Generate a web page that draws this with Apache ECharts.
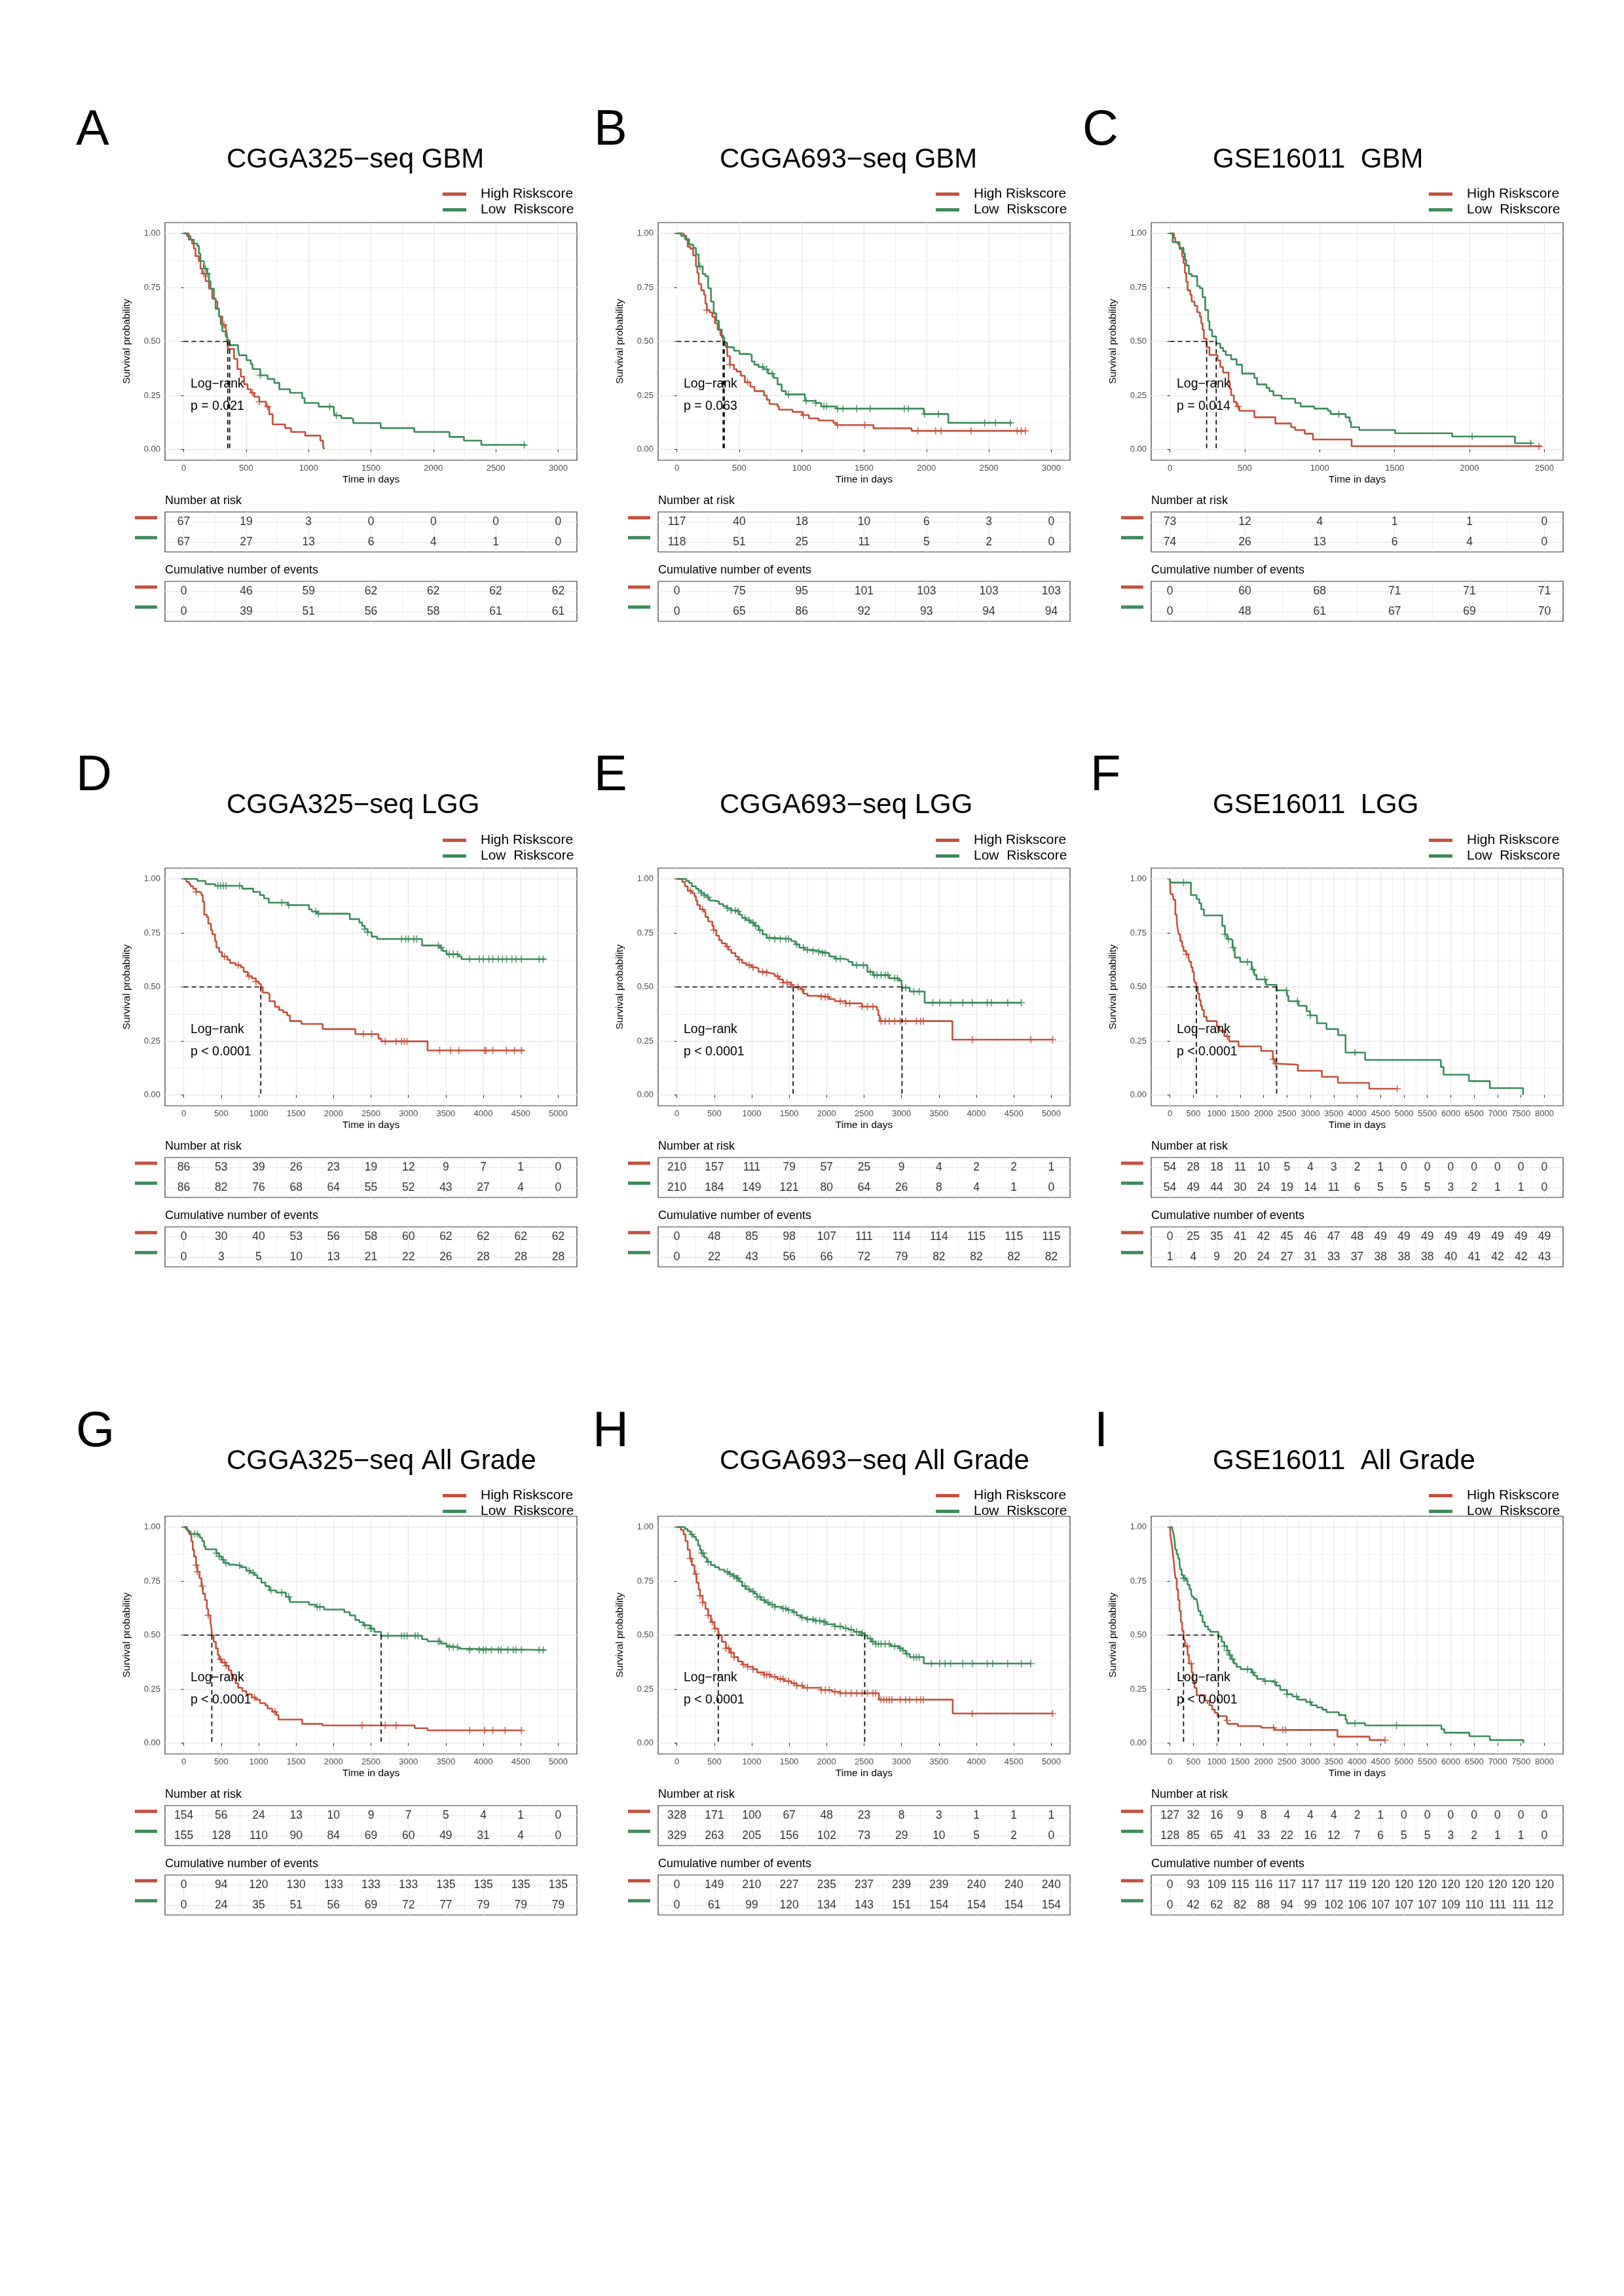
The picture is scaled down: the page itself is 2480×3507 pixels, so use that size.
<!DOCTYPE html>
<html>
<head>
<meta charset="utf-8">
<script src="https://cdn.jsdelivr.net/npm/echarts@6/dist/echarts.min.js"></script>
<style>
html,body{margin:0;padding:0;background:#ffffff;}
#chart{width:2480px;height:3507px;}
</style>
</head>
<body>
<div id="chart"></div>
<script>
// ---------------- DATA ----------------
const groupNames = ['High Riskscore', 'Low  Riskscore'];
const panelLetters = ['A','B','C','D','E','F','G','H','I'];
const panelTitles = ['CGGA325\u2212seq GBM','CGGA693\u2212seq GBM','GSE16011  GBM',
                     'CGGA325\u2212seq LGG','CGGA693\u2212seq LGG','GSE16011  LGG',
                     'CGGA325\u2212seq All Grade','CGGA693\u2212seq All Grade','GSE16011  All Grade'];
const pTexts = ['p = 0.021','p = 0.063','p = 0.014','p < 0.0001','p < 0.0001','p < 0.0001','p < 0.0001','p < 0.0001','p < 0.0001'];
const logRankText = 'Log\u2212rank';
const yBreaks = [0, 0.25, 0.5, 0.75, 1];
const breaks2500 = [0,500,1000,1500,2000,2500];
const breaks3000 = [0,500,1000,1500,2000,2500,3000];
const breaks5000 = [0,500,1000,1500,2000,2500,3000,3500,4000,4500,5000];
const breaks8000 = [0,500,1000,1500,2000,2500,3000,3500,4000,4500,5000,5500,6000,6500,7000,7500,8000];

// Panel A
const A_high = [[0,1],[40,0.971],[67,0.953],[81,0.930],[94,0.895],[121,0.872],[134,0.837],[148,0.814],[175,0.779],[202,0.744],[228,0.698],[255,0.686],[269,0.651],[282,0.616],[309,0.576],[336,0.564],[343,0.541],[349,0.512],[353,0.465],[403,0.419],[430,0.372],[457,0.337],[484,0.302],[511,0.279],[538,0.262],[565,0.244],[605,0.221],[659,0.198],[685,0.163],[712,0.116],[812,0.099],[860,0.081],[973,0.064],[1094,0.041],[1116,0.017],[1124,0]];
const A_low = [[0,1],[27,0.988],[54,0.971],[81,0.953],[108,0.942],[121,0.907],[134,0.872],[161,0.837],[188,0.814],[202,0.779],[215,0.744],[242,0.698],[255,0.651],[282,0.616],[296,0.581],[309,0.547],[336,0.523],[349,0.506],[368,0.483],[435,0.465],[444,0.436],[503,0.413],[538,0.395],[551,0.372],[613,0.343],[672,0.326],[726,0.308],[766,0.279],[852,0.262],[949,0.238],[968,0.215],[1081,0.198],[1202,0.174],[1210,0.157],[1263,0.145],[1344,0.140],[1358,0.122],[1578,0.099],[1847,0.081],[2129,0.058],[2245,0.041],[2384,0.021],[2742,0.021]];
const A_cens_high = [161,323,551,605,672];
const A_cens_low = [175,188,613,1169,1223,2728];
const A_median = [353,368];
const A_risk_high = [67,19,3,0,0,0,0];
const A_risk_low = [67,27,13,6,4,1,0];
const A_events_high = [0,46,59,62,62,62,62];
const A_events_low = [0,39,51,56,58,61,61];

// Panel B
const B_high = [[0,1],[55,0.989],[76,0.969],[87,0.938],[109,0.928],[131,0.898],[153,0.847],[164,0.817],[175,0.766],[196,0.736],[218,0.716],[229,0.675],[240,0.645],[262,0.635],[284,0.614],[305,0.584],[327,0.554],[349,0.528],[371,0.498],[393,0.473],[404,0.432],[425,0.392],[458,0.371],[480,0.361],[513,0.341],[545,0.311],[589,0.290],[622,0.270],[698,0.250],[720,0.230],[742,0.210],[807,0.199],[818,0.184],[927,0.174],[1004,0.159],[1058,0.144],[1135,0.134],[1255,0.123],[1276,0.113],[1575,0.098],[1881,0.086],[2793,0.086]];
const B_low = [[0,1],[33,0.989],[65,0.974],[98,0.948],[131,0.933],[153,0.903],[175,0.847],[207,0.812],[229,0.802],[251,0.746],[273,0.685],[295,0.630],[316,0.595],[338,0.555],[360,0.519],[380,0.494],[404,0.473],[458,0.457],[502,0.442],[578,0.437],[600,0.407],[622,0.392],[655,0.382],[698,0.371],[731,0.351],[775,0.331],[807,0.301],[840,0.270],[873,0.255],[1026,0.225],[1113,0.215],[1156,0.199],[1276,0.189],[1979,0.164],[2175,0.123],[2684,0.123]];
const B_cens_high = [240,425,567,1015,1287,1506,1931,2073,2117,2357,2727,2760,2793];
const B_cens_low = [185,687,720,764,895,1036,1113,1178,1200,1287,1331,1440,1549,1822,1855,1986,2095,2466,2553,2673];
const B_median = [371,380];
const B_risk_high = [117,40,18,10,6,3,0];
const B_risk_low = [118,51,25,11,5,2,0];
const B_events_high = [0,75,95,101,103,103,103];
const B_events_low = [0,65,86,92,93,94,94];

// Panel C
const C_high = [[0,1],[27,0.979],[36,0.958],[55,0.948],[64,0.928],[82,0.893],[91,0.862],[100,0.817],[109,0.776],[118,0.736],[136,0.716],[145,0.685],[164,0.665],[182,0.635],[200,0.614],[209,0.584],[218,0.554],[227,0.513],[245,0.473],[264,0.437],[318,0.412],[336,0.382],[355,0.356],[391,0.311],[400,0.280],[409,0.250],[427,0.220],[445,0.199],[464,0.179],[564,0.149],[704,0.120],[809,0.103],[836,0.090],[900,0.073],[955,0.046],[1213,0.015],[2482,0.015]];
const C_low = [[0,1],[18,0.960],[64,0.933],[91,0.907],[100,0.877],[109,0.852],[127,0.812],[145,0.802],[182,0.756],[200,0.746],[218,0.705],[236,0.645],[255,0.594],[264,0.554],[282,0.523],[309,0.490],[336,0.470],[355,0.455],[373,0.437],[409,0.417],[445,0.392],[482,0.351],[564,0.331],[582,0.301],[645,0.285],[664,0.270],[691,0.250],[745,0.235],[836,0.215],[873,0.199],[964,0.189],[1055,0.179],[1073,0.164],[1173,0.149],[1200,0.129],[1209,0.103],[1264,0.090],[1504,0.075],[1885,0.060],[2304,0.029],[2418,0.029]];
const C_cens_high = [455,2464];
const C_cens_low = [1127,2018,2409];
const C_median = [245,309];
const C_risk_high = [73,12,4,1,1,0];
const C_risk_low = [74,26,13,6,4,0];
const C_events_high = [0,60,68,71,71,71];
const C_events_low = [0,48,61,67,69,70];

// Panel D
const D_high = [[0,1],[36,0.986],[73,0.976],[91,0.966],[127,0.955],[164,0.940],[218,0.935],[236,0.925],[255,0.895],[273,0.834],[309,0.824],[327,0.793],[364,0.763],[382,0.743],[418,0.712],[436,0.682],[473,0.662],[509,0.641],[582,0.626],[618,0.611],[691,0.601],[764,0.591],[800,0.570],[855,0.550],[909,0.540],[964,0.525],[1000,0.515],[1029,0.499],[1055,0.474],[1109,0.469],[1145,0.434],[1218,0.408],[1273,0.393],[1327,0.383],[1382,0.368],[1418,0.342],[1571,0.329],[1855,0.305],[2291,0.282],[2600,0.261],[2636,0.248],[3255,0.206],[4545,0.206]];
const D_low = [[0,1],[182,0.991],[291,0.976],[418,0.968],[782,0.955],[927,0.940],[1018,0.925],[1073,0.910],[1135,0.890],[1389,0.879],[1673,0.859],[1709,0.849],[1782,0.839],[2218,0.814],[2345,0.798],[2382,0.783],[2418,0.768],[2455,0.753],[2509,0.733],[2582,0.722],[3182,0.692],[3418,0.682],[3455,0.667],[3509,0.651],[3673,0.641],[3709,0.629],[4836,0.629]];
const D_cens_high = [164,545,727,873,964,2400,2509,2691,2836,2909,2945,2982,3418,3564,3673,4018,4036,4127,4309,4418,4509];
const D_cens_low = [455,491,527,564,745,1309,1400,1764,1800,2418,2455,2909,2964,3000,3073,3109,3400,3436,3545,3600,3655,3818,3945,4000,4073,4127,4200,4255,4309,4382,4436,4509,4745,4800];
const D_median = [1029];
const D_risk_high = [86,53,39,26,23,19,12,9,7,1,0];
const D_risk_low = [86,82,76,68,64,55,52,43,27,4,0];
const D_events_high = [0,30,40,53,56,58,60,62,62,62,62];
const D_events_low = [0,3,5,10,13,21,22,26,28,28,28];

// Panel E
const E_high = [[0,1],[73,0.986],[109,0.966],[145,0.945],[200,0.935],[236,0.920],[255,0.900],[273,0.879],[309,0.859],[364,0.849],[382,0.824],[418,0.803],[473,0.783],[491,0.763],[527,0.737],[564,0.717],[600,0.702],[655,0.687],[691,0.672],[727,0.657],[782,0.641],[818,0.626],[873,0.611],[927,0.601],[1000,0.591],[1055,0.586],[1091,0.570],[1200,0.565],[1236,0.560],[1309,0.550],[1364,0.535],[1418,0.520],[1527,0.510],[1553,0.499],[1655,0.489],[1691,0.469],[1745,0.459],[1891,0.454],[2036,0.444],[2109,0.434],[2255,0.424],[2473,0.409],[2673,0.393],[2691,0.368],[2709,0.342],[3680,0.256],[5018,0.256]];
const E_low = [[0,1],[127,0.991],[164,0.981],[200,0.966],[255,0.955],[291,0.945],[327,0.935],[364,0.925],[400,0.915],[436,0.900],[491,0.895],[564,0.884],[618,0.874],[673,0.864],[727,0.854],[800,0.849],[836,0.834],[873,0.819],[927,0.809],[982,0.798],[1036,0.783],[1091,0.763],[1145,0.743],[1200,0.727],[1273,0.722],[1527,0.712],[1582,0.697],[1636,0.682],[1709,0.672],[1800,0.667],[1891,0.662],[1945,0.657],[2036,0.641],[2109,0.631],[2218,0.626],[2291,0.616],[2345,0.601],[2545,0.570],[2618,0.555],[2836,0.540],[2964,0.530],[3000,0.515],[3010,0.497],[3109,0.479],[3309,0.427],[4600,0.427]];
const E_cens_high = [182,345,491,673,836,964,1018,1145,1200,1345,1418,1473,1527,1618,1673,1927,1982,2018,2182,2255,2309,2473,2545,2618,2727,2782,2836,2909,2982,3055,3200,3255,3291,3945,4727,5018];
const E_cens_low = [327,364,418,673,727,782,818,909,964,1018,1055,1109,1236,1309,1382,1455,1491,1600,1691,1745,1818,1891,1945,1982,2127,2182,2400,2491,2582,2636,2673,2727,2782,2818,2909,2945,3055,3164,3236,3418,3509,3655,3818,3945,4145,4200,4418,4600];
const E_median = [1553,3007];
const E_risk_high = [210,157,111,79,57,25,9,4,2,2,1];
const E_risk_low = [210,184,149,121,80,64,26,8,4,1,0];
const E_events_high = [0,48,85,98,107,111,114,114,115,115,115];
const E_events_low = [0,22,43,56,66,72,79,82,82,82,82];

// Panel F
const F_high = [[0,1],[12,0.930],[58,0.925],[76,0.904],[116,0.834],[145,0.803],[163,0.773],[186,0.743],[221,0.712],[262,0.687],[291,0.667],[349,0.651],[396,0.636],[419,0.616],[454,0.591],[483,0.570],[512,0.535],[535,0.520],[564,0.499],[593,0.469],[628,0.439],[657,0.413],[686,0.393],[727,0.362],[785,0.342],[1001,0.317],[1059,0.297],[1163,0.272],[1262,0.248],[1466,0.225],[1949,0.204],[2199,0.165],[2240,0.145],[2269,0.140],[2734,0.112],[3246,0.084],[3589,0.056],[4258,0.029],[4857,0.029]];
const F_low = [[0,1],[12,0.983],[448,0.925],[570,0.907],[628,0.887],[669,0.859],[727,0.831],[1117,0.783],[1175,0.743],[1222,0.722],[1280,0.717],[1338,0.682],[1385,0.636],[1501,0.616],[1745,0.581],[1803,0.555],[1850,0.535],[2054,0.510],[2280,0.484],[2501,0.459],[2531,0.434],[2746,0.413],[2920,0.388],[2996,0.368],[3141,0.332],[3345,0.305],[3595,0.277],[3752,0.196],[4171,0.162],[5788,0.130],[5846,0.094],[6387,0.064],[6835,0.032],[7545,0]];
const F_cens_high = [349,1222,2211,2257,4857];
const F_cens_low = [291,1175,1251,1350,1658,1774,2024,2490,2723,2996,3956];
const F_median = [564,2280];
const F_risk_high = [54,28,18,11,10,5,4,3,2,1,0,0,0,0,0,0,0];
const F_risk_low = [54,49,44,30,24,19,14,11,6,5,5,5,3,2,1,1,0];
const F_events_high = [0,25,35,41,42,45,46,47,48,49,49,49,49,49,49,49,49];
const F_events_low = [1,4,9,20,24,27,31,33,37,38,38,38,40,41,42,42,43];

// Panel G
const G_high = [[0,1],[44,0.986],[65,0.976],[80,0.966],[102,0.935],[120,0.895],[138,0.864],[164,0.824],[182,0.793],[211,0.763],[236,0.727],[255,0.692],[284,0.662],[309,0.621],[327,0.591],[356,0.560],[371,0.530],[375,0.499],[400,0.469],[429,0.439],[455,0.408],[473,0.388],[509,0.373],[564,0.358],[600,0.337],[636,0.317],[662,0.297],[691,0.277],[727,0.256],[782,0.241],[836,0.226],[909,0.211],[964,0.201],[1018,0.185],[1091,0.175],[1120,0.160],[1182,0.145],[1236,0.130],[1265,0.109],[1582,0.089],[1855,0.082],[3084,0.069],[3255,0.059],[4509,0.059]];
const G_low = [[0,1],[29,0.991],[55,0.981],[91,0.968],[200,0.960],[218,0.950],[247,0.935],[273,0.910],[291,0.897],[436,0.879],[473,0.864],[509,0.849],[538,0.834],[600,0.826],[673,0.822],[764,0.814],[836,0.798],[891,0.788],[945,0.778],[982,0.763],[1036,0.743],[1091,0.727],[1145,0.707],[1236,0.697],[1364,0.677],[1418,0.653],[1673,0.641],[1764,0.631],[1873,0.618],[2145,0.606],[2218,0.591],[2291,0.570],[2345,0.560],[2400,0.545],[2491,0.530],[2545,0.515],[2636,0.497],[3182,0.481],[3255,0.471],[3436,0.461],[3509,0.449],[3545,0.444],[3673,0.437],[3709,0.431],[4836,0.431]];
const G_cens_high = [164,182,247,327,491,545,564,945,1218,2382,2691,2836,3818,4018,4127,4291,4509];
const G_cens_low = [145,182,436,473,527,564,745,873,927,1164,1309,1400,1782,1818,2418,2491,2509,2727,2909,2945,2982,3091,3127,3400,3418,3545,3600,3655,3818,3945,4000,4036,4109,4200,4236,4327,4400,4436,4509,4745,4800];
const G_median = [375,2636];
const G_risk_high = [154,56,24,13,10,9,7,5,4,1,0];
const G_risk_low = [155,128,110,90,84,69,60,49,31,4,0];
const G_events_high = [0,94,120,130,133,133,133,135,135,135,135];
const G_events_low = [0,24,35,51,56,69,72,77,79,79,79];

// Panel H
const H_high = [[0,1],[55,0.986],[91,0.966],[116,0.935],[145,0.895],[175,0.854],[200,0.824],[236,0.783],[262,0.743],[291,0.712],[309,0.682],[345,0.651],[382,0.621],[418,0.591],[455,0.560],[502,0.530],[553,0.499],[600,0.469],[655,0.439],[709,0.418],[764,0.398],[818,0.378],[873,0.363],[945,0.353],[1018,0.342],[1073,0.327],[1164,0.317],[1255,0.307],[1345,0.297],[1436,0.287],[1527,0.277],[1600,0.266],[1691,0.256],[1927,0.246],[2073,0.238],[2182,0.231],[2698,0.201],[3684,0.137],[5018,0.137]];
const H_low = [[0,1],[109,0.991],[145,0.981],[182,0.966],[218,0.955],[255,0.940],[284,0.915],[309,0.895],[327,0.879],[364,0.859],[400,0.839],[455,0.824],[509,0.814],[564,0.803],[636,0.793],[691,0.783],[745,0.773],[800,0.763],[836,0.748],[873,0.727],[927,0.712],[982,0.702],[1036,0.692],[1073,0.677],[1127,0.662],[1182,0.651],[1236,0.641],[1309,0.631],[1400,0.623],[1473,0.616],[1545,0.606],[1600,0.591],[1655,0.581],[1727,0.573],[1836,0.566],[1927,0.560],[2000,0.550],[2109,0.540],[2218,0.532],[2291,0.525],[2364,0.515],[2473,0.508],[2509,0.499],[2545,0.484],[2600,0.469],[2655,0.459],[2855,0.449],[2964,0.439],[3018,0.429],[3055,0.413],[3109,0.398],[3298,0.368],[4727,0.368]];
const H_cens_high = [182,255,309,345,418,473,509,564,655,691,727,764,891,945,1018,1164,1200,1236,1309,1382,1418,1491,1564,1600,1673,1745,1927,1982,2036,2109,2182,2255,2327,2400,2473,2545,2618,2655,2727,2764,2800,2836,2873,2982,3055,3109,3200,3255,3291,3945,5018];
const H_cens_low = [200,335,356,418,673,709,764,800,818,909,964,1018,1073,1109,1164,1218,1273,1309,1418,1455,1491,1564,1673,1745,1818,1855,1909,1964,1982,2109,2182,2255,2327,2400,2473,2509,2582,2618,2655,2691,2727,2782,2836,2909,2982,3018,3073,3164,3200,3236,3400,3509,3582,3655,3818,3945,4145,4218,4418,4600,4727];
const H_median = [553,2509];
const H_risk_high = [328,171,100,67,48,23,8,3,1,1,1];
const H_risk_low = [329,263,205,156,102,73,29,10,5,2,0];
const H_events_high = [0,149,210,227,235,237,239,239,240,240,240];
const H_events_low = [0,61,99,120,134,143,151,154,154,154,154];

// Panel I
const I_high = [[0,1],[6,0.976],[23,0.945],[47,0.905],[70,0.864],[93,0.814],[116,0.763],[145,0.712],[175,0.662],[204,0.611],[233,0.560],[262,0.520],[291,0.479],[320,0.449],[378,0.408],[407,0.368],[465,0.327],[494,0.287],[524,0.256],[570,0.221],[756,0.196],[844,0.175],[902,0.155],[960,0.140],[1018,0.125],[1210,0.105],[1233,0.089],[1454,0.079],[1949,0.071],[2240,0.061],[3578,0.030],[4264,0.014],[4596,0.014]];
const I_low = [[0,1],[47,0.991],[70,0.976],[87,0.955],[105,0.925],[116,0.895],[145,0.874],[175,0.854],[204,0.834],[221,0.803],[250,0.778],[291,0.763],[349,0.753],[378,0.733],[419,0.712],[454,0.692],[477,0.677],[512,0.667],[570,0.662],[593,0.641],[611,0.611],[652,0.591],[698,0.560],[745,0.540],[814,0.525],[861,0.515],[1035,0.494],[1105,0.469],[1163,0.449],[1222,0.429],[1262,0.408],[1309,0.388],[1367,0.368],[1425,0.353],[1513,0.342],[1745,0.327],[1803,0.312],[1862,0.297],[2007,0.287],[2211,0.282],[2269,0.266],[2356,0.246],[2501,0.226],[2618,0.216],[2734,0.201],[2909,0.190],[3025,0.175],[3141,0.165],[3258,0.155],[3345,0.143],[3607,0.130],[3752,0.109],[3781,0.092],[4171,0.082],[5800,0.064],[5864,0.048],[6399,0.032],[6835,0.014],[7551,0]];
const I_cens_high = [366,454,1222,2211,2414,2472,4596];
const I_cens_low = [291,320,1163,1222,1280,1338,1658,1774,2036,2240,2501,2705,2996,3956,4840];
const I_median = [291,1035];
const I_risk_high = [127,32,16,9,8,4,4,4,2,1,0,0,0,0,0,0,0];
const I_risk_low = [128,85,65,41,33,22,16,12,7,6,5,5,3,2,1,1,0];
const I_events_high = [0,93,109,115,116,117,117,117,119,120,120,120,120,120,120,120,120];
const I_events_low = [0,42,62,82,88,94,99,102,106,107,107,107,109,110,111,111,112];

const panelData = [
  {breaks:breaks3000, high:A_high, low:A_low, cH:A_cens_high, cL:A_cens_low, med:A_median, rH:A_risk_high, rL:A_risk_low, eH:A_events_high, eL:A_events_low},
  {breaks:breaks3000, high:B_high, low:B_low, cH:B_cens_high, cL:B_cens_low, med:B_median, rH:B_risk_high, rL:B_risk_low, eH:B_events_high, eL:B_events_low},
  {breaks:breaks2500, high:C_high, low:C_low, cH:C_cens_high, cL:C_cens_low, med:C_median, rH:C_risk_high, rL:C_risk_low, eH:C_events_high, eL:C_events_low},
  {breaks:breaks5000, high:D_high, low:D_low, cH:D_cens_high, cL:D_cens_low, med:D_median, rH:D_risk_high, rL:D_risk_low, eH:D_events_high, eL:D_events_low},
  {breaks:breaks5000, high:E_high, low:E_low, cH:E_cens_high, cL:E_cens_low, med:E_median, rH:E_risk_high, rL:E_risk_low, eH:E_events_high, eL:E_events_low},
  {breaks:breaks8000, high:F_high, low:F_low, cH:F_cens_high, cL:F_cens_low, med:F_median, rH:F_risk_high, rL:F_risk_low, eH:F_events_high, eL:F_events_low},
  {breaks:breaks5000, high:G_high, low:G_low, cH:G_cens_high, cL:G_cens_low, med:G_median, rH:G_risk_high, rL:G_risk_low, eH:G_events_high, eL:G_events_low},
  {breaks:breaks5000, high:H_high, low:H_low, cH:H_cens_high, cL:H_cens_low, med:H_median, rH:H_risk_high, rL:H_risk_low, eH:H_events_high, eL:H_events_low},
  {breaks:breaks8000, high:I_high, low:I_low, cH:I_cens_high, cL:I_cens_low, med:I_median, rH:I_risk_high, rL:I_risk_low, eH:I_events_high, eL:I_events_low}
];

// ---------------- STYLE / LAYOUT ----------------
const FONT = '"Liberation Sans", Arial, Helvetica, sans-serif';
const RED = '#C4503D';
const GREEN = '#3C8B5A';
const GRIDC = '#EBEBEB';
const FRAME = '#333333';
const colL = [252, 1005, 1758];
const rowT = [340, 1326, 2316];
const PW = 629, PH = 363;
const letterX = [116, 907, 1653, 116, 907, 1665, 116, 905, 1671];
const headOff = [
  {letter:-140, title:-96, legend:-54},
  {letter:-140, title:-96, legend:-53},
  {letter:-128, title:-84, legend:-42}
];
const CROSS = 'path://M-5,-0.8H5V0.8H-5Z M-0.8,-5H0.8V5H-0.8Z';

function survAt(curve, t) {
  let s = curve[0][1];
  for (const pt of curve) { if (pt[0] <= t) s = pt[1]; else break; }
  return s;
}
function minorOf(arr) {
  const out = [];
  for (let i = 0; i < arr.length - 1; i++) out.push((arr[i] + arr[i + 1]) / 2);
  return out;
}

const option = {
  animation: false,
  backgroundColor: '#ffffff',
  grid: [], xAxis: [], yAxis: [], series: [], legend: [], graphic: []
};

function addXAxes(gi, xmin, xmax, majors, withLabels) {
  const xi = option.xAxis.length;
  option.xAxis.push({
    gridIndex: gi, type: 'value', min: xmin, max: xmax, position: 'bottom',
    axisLine: {show: false},
    axisTick: {show: withLabels, length: 4, customValues: majors, lineStyle: {color: FRAME, width: 1.1}},
    axisLabel: withLabels ? {show: true, customValues: majors, formatter: v => String(Math.round(v)), fontSize: 13, color: '#4D4D4D', margin: 6, fontFamily: FONT} : {show: false},
    splitLine: {show: true, lineStyle: {color: GRIDC, width: 1.4}},
    name: withLabels ? 'Time in days' : '',
    nameLocation: 'middle', nameGap: 22,
    nameTextStyle: {fontSize: 15.5, color: '#000', fontFamily: FONT}
  });
  option.xAxis.push({
    gridIndex: gi, type: 'value', min: xmin, max: xmax, position: 'top',
    axisLine: {show: false},
    axisTick: {show: false, customValues: minorOf(majors)},
    axisLabel: {show: false},
    splitLine: {show: true, lineStyle: {color: GRIDC, width: 0.8}}
  });
  return xi;
}

for (let p = 0; p < 9; p++) {
  const d = panelData[p];
  const c = p % 3, r = Math.floor(p / 3);
  const L = colL[c], T = rowT[r];
  const bmax = d.breaks[d.breaks.length - 1];
  const pad = bmax * 0.05;
  const xmin = -pad, xmax = bmax + pad;

  // ---- survival plot ----
  const gi = option.grid.length;
  option.grid.push({left: L, top: T, width: PW, height: PH, show: true, borderColor: FRAME, borderWidth: 1.2, backgroundColor: '#fff'});
  const xi = addXAxes(gi, xmin, xmax, d.breaks, true);
  const yi = option.yAxis.length;
  option.yAxis.push({
    gridIndex: gi, type: 'value', min: -0.05, max: 1.05, position: 'left',
    axisLine: {show: false},
    axisTick: {show: true, length: 4, customValues: yBreaks, lineStyle: {color: FRAME, width: 1.1}},
    axisLabel: {show: true, customValues: yBreaks, formatter: v => Number(v).toFixed(2), fontSize: 13, color: '#4D4D4D', margin: 7, fontFamily: FONT},
    splitLine: {show: true, lineStyle: {color: GRIDC, width: 1.4}},
    name: 'Survival probability', nameLocation: 'middle', nameGap: 50, nameRotate: 90,
    nameTextStyle: {fontSize: 15.5, color: '#000', fontFamily: FONT}
  });
  option.yAxis.push({
    gridIndex: gi, type: 'value', min: -0.05, max: 1.05, position: 'right',
    axisLine: {show: false},
    axisTick: {show: false, customValues: minorOf(yBreaks)},
    axisLabel: {show: false},
    splitLine: {show: true, lineStyle: {color: GRIDC, width: 0.8}}
  });

  const curves = [[d.high, d.cH, RED, groupNames[0]], [d.low, d.cL, GREEN, groupNames[1]]];
  curves.forEach(([curve, cens, col, nm]) => {
    option.series.push({
      type: 'line', name: nm, xAxisIndex: xi, yAxisIndex: yi, data: curve, step: 'end',
      symbol: 'none', silent: true, z: 3,
      lineStyle: {color: col, width: 2.6}, itemStyle: {color: col}
    });
    option.series.push({
      type: 'scatter', name: nm + ' censor', xAxisIndex: xi, yAxisIndex: yi,
      data: cens.map(t => [t, survAt(curve, t)]),
      symbol: CROSS, symbolSize: 11, symbolKeepAspect: true, silent: true, z: 4,
      itemStyle: {color: col}
    });
  });
  // median lines
  const mMax = Math.max.apply(null, d.med);
  const dashStyle = {color: '#000', width: 1.7, type: [7, 5]};
  option.series.push({
    type: 'line', name: 'median h', xAxisIndex: xi, yAxisIndex: yi,
    data: [[0, 0.5], [mMax, 0.5]], symbol: 'none', silent: true, z: 5, lineStyle: dashStyle
  });
  d.med.forEach(m => {
    option.series.push({
      type: 'line', name: 'median v', xAxisIndex: xi, yAxisIndex: yi,
      data: [[m, 0.5], [m, 0]], symbol: 'none', silent: true, z: 5, lineStyle: dashStyle
    });
  });

  // legend
  option.legend.push({
    data: groupNames, orient: 'vertical', left: L + 424, top: T + headOff[r].legend,
    itemWidth: 36, itemHeight: 5, itemGap: 3, icon: 'rect', selectedMode: false, padding: 0,
    textStyle: {fontSize: 21, lineHeight: 21, color: '#000', fontFamily: FONT, padding: [0, 0, 0, 17]}
  });

  // ---- tables ----
  const tables = [
    {top: T + 442, rows: [d.rH, d.rL]},
    {top: T + 548, rows: [d.eH, d.eL]}
  ];
  tables.forEach(tb => {
    const tg = option.grid.length;
    option.grid.push({left: L, top: tb.top, width: PW, height: 61, show: true, borderColor: FRAME, borderWidth: 1.2, backgroundColor: '#fff'});
    const txi = addXAxes(tg, xmin, xmax, d.breaks, false);
    const tyi = option.yAxis.length;
    option.yAxis.push({
      gridIndex: tg, type: 'value', min: 0, max: 2, inverse: true, position: 'left',
      axisLine: {show: false},
      axisTick: {show: false, customValues: [0.5, 1.5]},
      axisLabel: {
        show: true, customValues: [0.5, 1.5], margin: 12, verticalAlign: 'bottom', padding: [0, 0, 4, 0],
        formatter: v => (v < 1 ? '{h| }' : '{l| }'),
        rich: {h: {width: 34, height: 5, backgroundColor: RED}, l: {width: 34, height: 5, backgroundColor: GREEN}}
      },
      splitLine: {show: true, lineStyle: {color: GRIDC, width: 1.4}}
    });
    tb.rows.forEach((vals, ri) => {
      option.series.push({
        type: 'scatter', name: 'table', xAxisIndex: txi, yAxisIndex: tyi,
        data: vals.map((v, i) => [d.breaks[i], ri + 0.5, v]),
        symbolSize: 1, silent: true, itemStyle: {color: 'rgba(0,0,0,0)'},
        label: {show: true, position: 'inside', formatter: q => String(q.value[2]), fontSize: 17.5, color: '#000', fontFamily: FONT}
      });
    });
  });

  // ---- texts ----
  const txt = (x, y, s, size, extra) => Object.assign({
    type: 'text', x: x, y: y, silent: true,
    style: {text: s, fontSize: size, fontFamily: FONT, fill: '#000', align: 'left', verticalAlign: 'middle'}
  }, extra || {});
  option.graphic.push(txt(letterX[p], T + headOff[r].letter, panelLetters[p], 76));
  option.graphic.push(txt(L + 94, T + headOff[r].title, panelTitles[p], 42));
  option.graphic.push(txt(L + 39, T + 247, logRankText, 19.5, {z: 10}));
  option.graphic.push(txt(L + 39, T + 281, pTexts[p], 19.5, {z: 10}));
  option.graphic.push(txt(L, T + 425, 'Number at risk', 18));
  option.graphic.push(txt(L, T + 531, 'Cumulative number of events', 18));
}

const chart = echarts.init(document.getElementById('chart'), null, {renderer: 'canvas', width: 2480, height: 3507});
chart.setOption(option);
</script>
</body>
</html>
